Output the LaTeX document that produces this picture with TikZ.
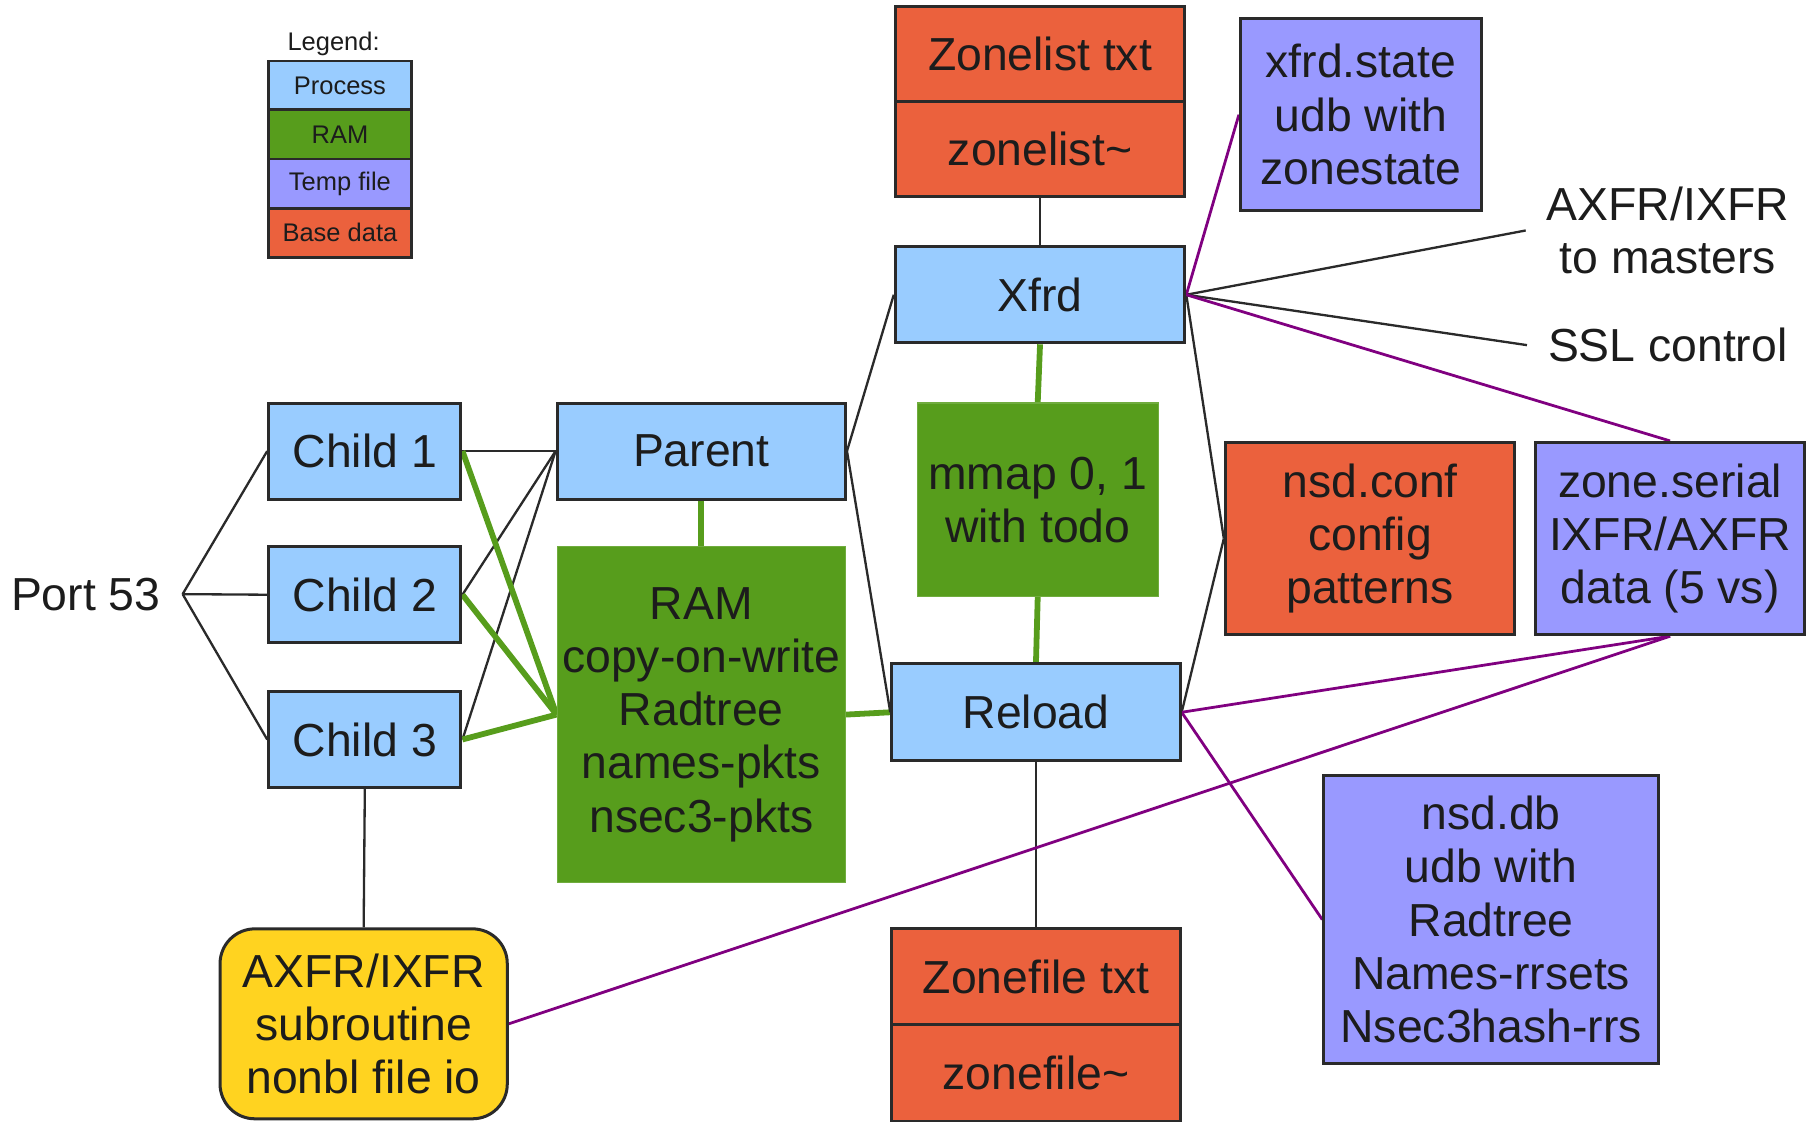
\documentclass[tikz,border=0pt]{standalone}
\usepackage{fontspec}
\setmainfont{Liberation Sans}
\usetikzlibrary{backgrounds}
\definecolor{procc}{HTML}{99CCFF}
\definecolor{ramc}{HTML}{579D1C}
\definecolor{tempc}{HTML}{9999FF}
\definecolor{basec}{HTML}{EB613D}
\definecolor{yelc}{HTML}{FFD320}
\definecolor{purc}{HTML}{800080}
\definecolor{bordc}{HTML}{2A2A2A}
\definecolor{txtc}{HTML}{1C1C1C}
\newcommand\mainfs{\fontsize{40}{46}\selectfont}
\newcommand\legfs{\fontsize{22}{25}\selectfont}
\begin{document}
\begin{tikzpicture}[x=1pt,y=-1pt,
  bx/.style={draw=bordc, line width=2.6pt, inner sep=0pt, align=center, font=\mainfs, text=txtc},
  procbox/.style={bx, fill=procc},
  basebox/.style={bx, fill=basec},
  tempbox/.style={bx, fill=tempc},
  rambox/.style={inner sep=0pt, align=center, font=\mainfs, text=txtc, fill=ramc, draw=ramc!85!white, line width=1pt},
  legbox/.style={draw=bordc, line width=2.4pt, inner sep=0pt, font=\legfs, text=txtc, minimum width=123pt, minimum height=42.5pt},
  plain/.style={align=center, font=\mainfs, text=txtc, inner ysep=0pt, inner xsep=18pt},
  blk/.style={draw=bordc, line width=2pt},
  grn/.style={draw=ramc, line width=5pt},
  pur/.style={draw=purc, line width=2.4pt}]
\useasboundingbox (0,0) rectangle (1568,968);

% legend
\node[font=\legfs, text=txtc, inner sep=0pt] (legt) at (288,38) {Legend:};
\node[legbox, fill=procc] (lp) at (293.5,74) {Process};
\node[legbox, fill=ramc] (lr) at (293.5,116) {RAM};
\node[legbox, fill=tempc] (lt) at (293.5,158.5) {Temp file};
\node[legbox, fill=basec] (lb) at (293.5,201) {Base data};

% nodes
\node[basebox, minimum width=250pt, minimum height=82pt] (zl1) at (898,47) {Zonelist txt};
\node[basebox, minimum width=250pt, minimum height=82pt] (zl2) at (898,129) {zonelist\char`\~};
\node[procbox, minimum width=250pt, minimum height=83pt] (xfrd) at (898,254.5) {Xfrd};
\node[tempbox, minimum width=208pt, minimum height=166pt] (xstate) at (1175,99) {xfrd.state\\udb with\\zonestate};
\node[plain] (masters) at (1440,199) {AXFR/IXFR\\to masters};
\node[plain] (ssl) at (1440,298) {SSL control};
\node[plain, inner xsep=19pt] (port) at (74,513) {Port 53};
\node[procbox, minimum width=249pt, minimum height=83pt] (parent) at (605.5,389.5) {Parent};
\node[procbox, minimum width=166pt, minimum height=83pt] (c1) at (315,389.5) {Child 1};
\node[procbox, minimum width=166pt, minimum height=83pt] (c2) at (315,513.5) {Child 2};
\node[procbox, minimum width=166pt, minimum height=83pt] (c3) at (315,638.5) {Child 3};
\node[rambox, minimum width=249pt, minimum height=290pt] (ram) at (605.5,617) {RAM\\copy-on-write\\Radtree\\names-pkts\\nsec3-pkts};
\node[rambox, minimum width=208pt, minimum height=167pt] (mmap) at (896,431.5) {mmap 0, 1\\with todo};
\node[procbox, minimum width=249pt, minimum height=84pt] (reload) at (894.5,615) {Reload};
\node[basebox, minimum width=249pt, minimum height=83pt] (zf1) at (894.5,843.5) {Zonefile txt};
\node[basebox, minimum width=249pt, minimum height=83pt] (zf2) at (894.5,926.5) {zonefile\char`\~};
\node[basebox, minimum width=250pt, minimum height=166pt] (conf) at (1183,465) {nsd.conf\\config\\patterns};
\node[tempbox, minimum width=232pt, minimum height=166pt] (zser) at (1442,465) {zone.serial\\IXFR/AXFR\\data (5 vs)};
\node[tempbox, minimum width=289pt, minimum height=248pt] (nsddb) at (1287.5,794) {nsd.db\\udb with\\Radtree\\Names-rrsets\\Nsec3hash-rrs};
\node[bx, fill=yelc, rounded corners=30pt, minimum width=248pt, minimum height=164pt] (axfr) at (314,884) {AXFR/IXFR\\subroutine\\nonbl file io};

% connectors (behind boxes)
\begin{scope}[on background layer]
  % port 53 to children
  \draw[blk] (port.east) -- (c1.west);
  \draw[blk] (port.east) -- (c2.west);
  \draw[blk] (port.east) -- (c3.west);
  % children to parent
  \draw[blk] (c1.east) -- (parent.west);
  \draw[blk] (c2.east) -- (parent.west);
  \draw[blk] (c3.east) -- (parent.west);
  % children to RAM
  \draw[grn] (c1.east) -- (ram.west);
  \draw[grn] (c2.east) -- (ram.west);
  \draw[grn] (c3.east) -- (ram.west);
  \draw[grn] (parent.south) -- (ram.north);
  \draw[grn] (ram.east) -- (reload.west);
  % parent to xfrd / reload
  \draw[blk] (parent.east) -- (xfrd.west);
  \draw[blk] (parent.east) -- (reload.west);
  % vertical links
  \draw[blk] (zl2.south) -- (xfrd.north);
  \draw[grn] (xfrd.south) -- (mmap.north);
  \draw[grn] (mmap.south) -- (reload.north);
  \draw[blk] (reload.south) -- (zf1.north);
  \draw[blk] (c3.south) -- (axfr.north);
  % xfrd fan-out
  \draw[blk] (xfrd.east) -- (masters.west);
  \draw[blk] (xfrd.east) -- (ssl.west);
  \draw[blk] (xfrd.east) -- (conf.west);
  \draw[blk] (reload.east) -- (conf.west);
  \draw[pur] (xstate.west) -- (xfrd.east);
  \draw[pur] (xfrd.east) -- (zser.north);
  \draw[pur] (reload.east) -- (zser.south);
  \draw[pur] (axfr.east) -- (zser.south);
  \draw[pur] (reload.east) -- (nsddb.west);
\end{scope}
\end{tikzpicture}
\end{document}
